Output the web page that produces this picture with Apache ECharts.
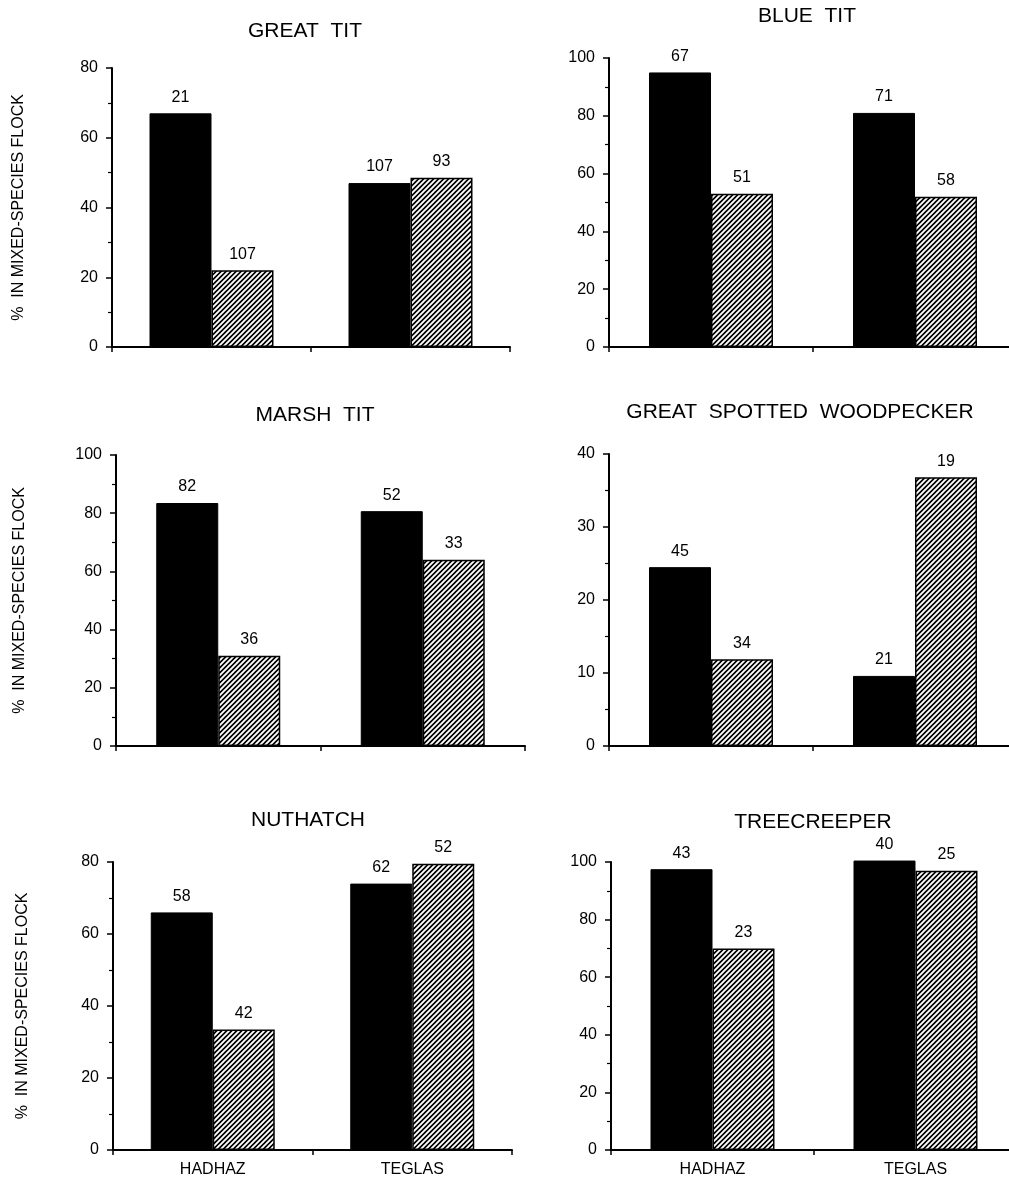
<!DOCTYPE html>
<html>
<head>
<meta charset="utf-8">
<script src="https://cdn.jsdelivr.net/npm/echarts@6/dist/echarts.min.js"></script>
<style>
  html, body { margin: 0; padding: 0; background: #fff; }
  #chart { width: 1009px; height: 1180px; }
</style>
</head>
<body>
<div id="chart"></div>
<script>
// ---------------- DATA ----------------
const categories = ['HADHAZ', 'TEGLAS'];
const panelTitles = ['GREAT  TIT', 'BLUE  TIT', 'MARSH  TIT', 'GREAT  SPOTTED  WOODPECKER', 'NUTHATCH', 'TREECREEPER'];
const yAxisName = '%  IN MIXED-SPECIES FLOCK';

// % in mixed-species flock (solid = black bars, hatched = striped bars)
const greatTitSolid = [67, 47];
const greatTitHatched = [22, 48.5];
const blueTitSolid = [95, 81];
const blueTitHatched = [53, 52];
const marshTitSolid = [83.5, 80.7];
const marshTitHatched = [31, 64];
const woodpeckerSolid = [24.5, 9.6];
const woodpeckerHatched = [11.9, 36.8];
const nuthatchSolid = [66, 74];
const nuthatchHatched = [33.5, 79.5];
const treecreeperSolid = [97.5, 100.5];
const treecreeperHatched = [70, 97];

// sample sizes printed above bars
const greatTitSolidN = [21, 107];
const greatTitHatchedN = [107, 93];
const blueTitSolidN = [67, 71];
const blueTitHatchedN = [51, 58];
const marshTitSolidN = [82, 52];
const marshTitHatchedN = [36, 33];
const woodpeckerSolidN = [45, 21];
const woodpeckerHatchedN = [34, 19];
const nuthatchSolidN = [58, 62];
const nuthatchHatchedN = [42, 52];
const treecreeperSolidN = [43, 40];
const treecreeperHatchedN = [23, 25];

// y-axis scales
const yMax = [80, 100, 100, 40, 80, 100];
const yInterval = [20, 20, 20, 10, 20, 20];

// ---------------- LAYOUT / STYLE ----------------
const grids = [
  { left: 112, top: 68,  width: 398, height: 279 },
  { left: 609, top: 58,  width: 408, height: 289 },
  { left: 116, top: 455, width: 409, height: 291 },
  { left: 609, top: 454, width: 408, height: 292 },
  { left: 113, top: 862, width: 399, height: 288 },
  { left: 611, top: 862, width: 406, height: 288 }
];
const titlePos = [
  { x: 305, y: 21 }, { x: 807, y: 6 }, { x: 315, y: 405 },
  { x: 800, y: 402 }, { x: 308, y: 810 }, { x: 813, y: 812 }
];
const nameGaps = [85, null, 88, null, 82, null];
const showXLabels = [false, false, false, false, true, true];

const solidSeries = [greatTitSolid, blueTitSolid, marshTitSolid, woodpeckerSolid, nuthatchSolid, treecreeperSolid];
const hatchedSeries = [greatTitHatched, blueTitHatched, marshTitHatched, woodpeckerHatched, nuthatchHatched, treecreeperHatched];
const solidCounts = [greatTitSolidN, blueTitSolidN, marshTitSolidN, woodpeckerSolidN, nuthatchSolidN, treecreeperSolidN];
const hatchedCounts = [greatTitHatchedN, blueTitHatchedN, marshTitHatchedN, woodpeckerHatchedN, nuthatchHatchedN, treecreeperHatchedN];

const FONT = '"Liberation Sans", Arial, Helvetica, sans-serif';

function makeHatch() {
  const s = 5;
  const c = document.createElement('canvas');
  c.width = s; c.height = s;
  const g = c.getContext('2d');
  g.fillStyle = '#000';
  g.fillRect(0, 0, s, s);
  g.strokeStyle = '#fff';
  g.lineWidth = 1.9;
  g.beginPath();
  g.moveTo(0, s); g.lineTo(s, 0);
  g.moveTo(-1, 1); g.lineTo(1, -1);
  g.moveTo(s - 1, s + 1); g.lineTo(s + 1, s - 1);
  g.stroke();
  return c;
}
const hatch = { image: makeHatch(), repetition: 'repeat' };

const option = {
  animation: false,
  backgroundColor: '#fff',
  title: [], grid: [], xAxis: [], yAxis: [], series: []
};

for (let i = 0; i < 6; i++) {
  option.title.push({
    text: panelTitles[i],
    left: titlePos[i].x, top: titlePos[i].y,
    textAlign: 'center', padding: 0,
    textStyle: { fontFamily: FONT, fontSize: 21, fontWeight: 'normal', color: '#000' }
  });
  option.grid.push(Object.assign({ containLabel: false, outerBoundsMode: 'none' }, grids[i]));
  option.xAxis.push({
    type: 'category', gridIndex: i, data: categories,
    axisLine: { lineStyle: { color: '#000', width: 2 } },
    axisTick: { show: true, length: 5, lineStyle: { color: '#000', width: 1.5 } },
    axisLabel: { show: showXLabels[i], color: '#000', fontFamily: FONT, fontSize: 16, margin: 12 },
    splitLine: { show: false }
  });
  const ya = {
    type: 'value', gridIndex: i, min: 0, max: yMax[i], interval: yInterval[i],
    axisLine: { show: true, lineStyle: { color: '#000', width: 2 } },
    axisTick: { show: true, length: 6, lineStyle: { color: '#000', width: 1.5 } },
    minorTick: { show: true, splitNumber: 2, length: 4, lineStyle: { color: '#000', width: 1.2 } },
    axisLabel: { color: '#000', fontFamily: FONT, fontSize: 16, margin: 14 },
    splitLine: { show: false }
  };
  if (nameGaps[i] !== null) {
    Object.assign(ya, {
      name: yAxisName, nameLocation: 'middle', nameRotate: 90, nameGap: nameGaps[i],
      nameTextStyle: { color: '#000', fontFamily: FONT, fontSize: 16 }
    });
  }
  option.yAxis.push(ya);

  const sc = solidCounts[i], hc = hatchedCounts[i];
  option.series.push({
    type: 'bar', xAxisIndex: i, yAxisIndex: i, data: solidSeries[i],
    barWidth: 62, barGap: '0%', clip: false,
    itemStyle: { color: '#000', borderColor: '#000', borderWidth: 1 },
    label: { show: true, position: 'top', distance: 8, color: '#000', fontFamily: FONT, fontSize: 16,
             formatter: p => String(sc[p.dataIndex]) },
    emphasis: { disabled: true }, silent: true
  });
  option.series.push({
    type: 'bar', xAxisIndex: i, yAxisIndex: i, data: hatchedSeries[i],
    barWidth: 62, barGap: '0%', clip: false,
    itemStyle: { color: hatch, borderColor: '#000', borderWidth: 1.5 },
    label: { show: true, position: 'top', distance: 8, color: '#000', fontFamily: FONT, fontSize: 16,
             formatter: p => String(hc[p.dataIndex]) },
    emphasis: { disabled: true }, silent: true
  });
}

const chart = echarts.init(document.getElementById('chart'), null, { renderer: 'canvas' });
chart.setOption(option);
</script>
</body>
</html>
